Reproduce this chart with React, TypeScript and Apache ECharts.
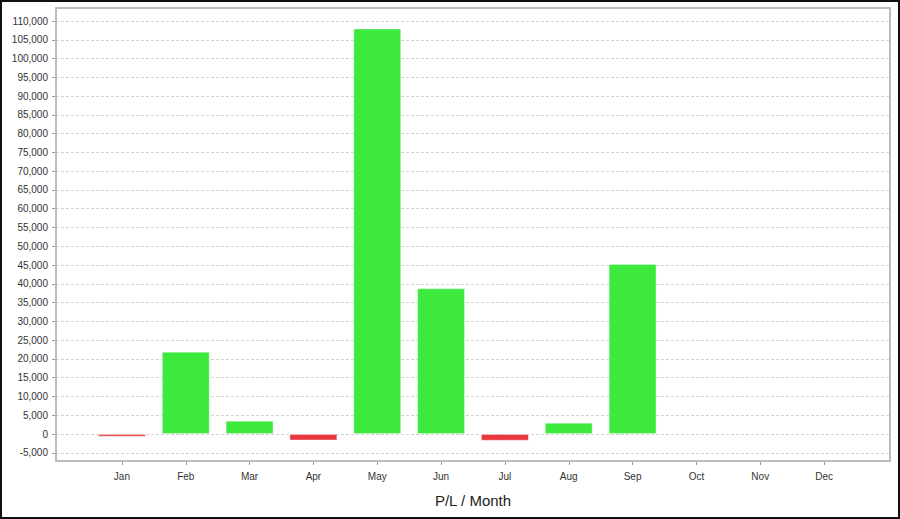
import React, { useEffect, useRef } from "react";
import * as echarts from "echarts";

const months = ["Jan", "Feb", "Mar", "Apr", "May", "Jun", "Jul", "Aug", "Sep", "Oct", "Nov", "Dec"];
const profitLoss: (number | null)[] = [-700, 21900, 3550, -1700, 108000, 38800, -1780, 3000, 45300, null, null, null];
const yMin = -5000;
const yMax = 110000;
const yStep = 5000;
const chartTitle = "P/L / Month";

const GREEN = "#3de93d";
const RED = "#e8383d";
const FONT = "'Liberation Sans', Arial, sans-serif";

export default function App() {
  const ref = useRef<HTMLDivElement>(null);
  useEffect(() => {
    if (!ref.current) return;
    const chart = echarts.init(ref.current, undefined, { renderer: "svg" });
    const gridTop = 21;
    const gridBottom = 519 - 452.8;
    chart.setOption({
      animation: false,
      backgroundColor: "#ffffff",
      grid: [
        { left: 56, right: 10, top: gridTop, bottom: gridBottom },
        { left: 90, right: 44, top: gridTop, bottom: gridBottom },
      ],
      xAxis: [
        { gridIndex: 0, type: "value", show: false, min: 0, max: 1 },
        {
          gridIndex: 1,
          type: "category",
          data: months,
          offset: 8.2,
          axisLine: { show: false, onZero: false },
          axisTick: { show: true, alignWithLabel: true, length: 4, lineStyle: { color: "#999" } },
          axisLabel: { color: "#333", fontSize: 10, fontFamily: FONT, margin: 10 },
          splitLine: { show: false },
          name: chartTitle,
          nameLocation: "middle",
          nameGap: 32,
          nameTextStyle: { color: "#222", fontSize: 15, fontFamily: FONT },
        },
      ],
      yAxis: [
        {
          gridIndex: 0,
          type: "value",
          min: yMin,
          max: yMax,
          interval: yStep,
          axisLine: { show: false },
          axisTick: { show: true, length: 4, lineStyle: { color: "#999" } },
          axisLabel: {
            color: "#333",
            fontSize: 10,
            fontFamily: FONT,
            margin: 8,
            formatter: (v: number) => v.toLocaleString("en-US"),
          },
          splitLine: { show: true, lineStyle: { color: "#d2d2d2", type: [3, 2], width: 1 } },
        },
        {
          gridIndex: 1,
          type: "value",
          min: yMin,
          max: yMax,
          interval: yStep,
          show: false,
          splitLine: { show: false },
        },
      ],
      graphic: [
        {
          type: "rect",
          shape: { x: 56, y: 8, width: 834, height: 453 },
          style: { fill: "none", stroke: "#bdbdbd", lineWidth: 2 },
          silent: true,
          z: 10,
        },
      ],
      series: [
        {
          type: "bar",
          xAxisIndex: 1,
          yAxisIndex: 1,
          data: profitLoss,
          barWidth: "75%",
          itemStyle: {
            color: (p: any) => ((p.value as number) < 0 ? RED : GREEN),
            borderColor: "rgba(255,255,255,0.35)",
            borderWidth: 1,
          },
        },
      ],
    });
    return () => chart.dispose();
  }, []);

  return (
    <div style={{ position: "fixed", left: 0, top: 0, width: 900, height: 519 }}>
      <div ref={ref} style={{ position: "absolute", left: 0, top: 0, width: 900, height: 519 }} />
      <div
        style={{
          position: "absolute",
          left: 0,
          top: 0,
          width: 900,
          height: 519,
          boxSizing: "border-box",
          border: "2px solid #111",
          pointerEvents: "none",
        }}
      />
    </div>
  );
}
